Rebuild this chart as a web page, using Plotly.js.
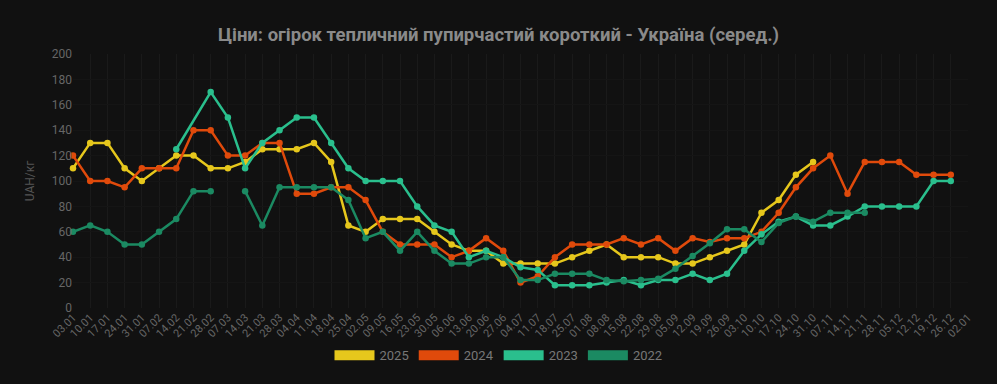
<!DOCTYPE html>
<html>
<head>
<meta charset="utf-8">
<script src="https://cdn.plot.ly/plotly-3.0.1.min.js"></script>
<style>
html,body{margin:0;padding:0;background:#111111;}
#chart{width:997px;height:384px;}
</style>
</head>
<body>
<div id="chart"></div>
<script>
const categories = ["03.01","10.01","17.01","24.01","31.01","07.02","14.02","21.02","28.02","07.03","14.03","21.03","28.03","04.04","11.04","18.04","25.04","02.05","09.05","16.05","23.05","30.05","06.06","13.06","20.06","27.06","04.07","11.07","18.07","25.07","01.08","08.08","15.08","22.08","29.08","05.09","12.09","19.09","26.09","03.10","10.10","17.10","24.10","31.10","07.11","14.11","21.11","28.11","05.12","12.12","19.12","26.12","02.01"];

const y2025 = [110,130,130,110,100,110,120,120,110,110,115,125,125,125,130,115,65,60,70,70,70,60,50,45,45,35,35,35,35,40,45,50,40,40,40,35,35,40,45,50,75,85,105,115];
const y2024 = [120,100,100,95,110,110,110,140,140,120,120,130,130,90,90,95,95,85,60,50,50,50,40,45,55,45,20,25,40,50,50,50,55,50,55,45,55,52,55,55,60,75,95,110,120,90,115,115,115,105,105,105];
const y2023 = [null,null,null,null,null,null,125,null,170,150,110,130,140,150,150,130,110,100,100,100,80,65,60,40,45,40,32,30,18,18,18,20,22,18,22,22,27,22,27,45,58,68,72,65,65,72,80,80,80,80,100,100];
const y2022 = [60,65,60,50,50,60,70,92,92,null,92,65,95,95,95,95,85,55,60,45,60,45,35,35,40,40,22,22,27,27,27,22,21,22,23,31,41,51,62,62,52,67,72,68,75,75,75];

const seriesNames = ["2025","2024","2023","2022"];
const seriesData = [y2025, y2024, y2023, y2022];
const colors = ["#e6c71c","#e04a0b","#2abf8d","#1b8a62"];
const gaps = [false, false, true, false];

const traces = [];
seriesData.forEach((ys, k) => {
  traces.push({
    type: "scatter",
    mode: "lines+markers",
    name: seriesNames[k],
    legendgroup: seriesNames[k],
    showlegend: false,
    x: categories.slice(0, ys.length),
    y: ys,
    connectgaps: gaps[k],
    line: {color: colors[k], width: 2.5},
    marker: {color: colors[k], size: 6.5},
    cliponaxis: false,
    hoverinfo: "x+y+name"
  });
});
seriesData.forEach((ys, k) => {
  traces.push({
    type: "scatter",
    mode: "lines",
    name: seriesNames[k],
    legendgroup: seriesNames[k],
    showlegend: true,
    x: [null],
    y: [null],
    line: {color: colors[k], width: 13}
  });
});

const layout = {
  width: 997,
  height: 384,
  paper_bgcolor: "#111111",
  plot_bgcolor: "#111111",
  margin: {l: 73, r: 29, t: 54, b: 76, autoexpand: false},
  font: {family: "Roboto, 'Noto Sans', sans-serif", color: "#777777"},
  title: {
    text: "<b>Ціни: огірок тепличний пупирчастий короткий - Україна (серед.)</b>",
    font: {size: 18.5, color: "#8a8a8a", family: "Roboto, 'Noto Sans', sans-serif"},
    x: 0.5, xanchor: "center", xref: "container",
    y: 0.91, yanchor: "middle", yref: "container"
  },
  xaxis: {
    type: "category",
    categoryorder: "array",
    categoryarray: categories,
    range: [0, categories.length - 1],
    tickangle: -45,
    tickfont: {size: 11, color: "#666666"},
    showgrid: true,
    gridcolor: "#1a1a1a",
    gridwidth: 1,
    zeroline: false,
    showline: false,
    ticks: "",
    automargin: false,
    fixedrange: true
  },
  yaxis: {
    range: [0, 200],
    dtick: 20,
    tick0: 0,
    tickfont: {size: 12, color: "#666666"},
    showgrid: true,
    gridcolor: "#151515",
    zeroline: false,
    showline: false,
    ticks: "",
    automargin: false,
    title: {text: "UAH/кг", font: {size: 12, color: "#555555"}, standoff: 14},
    fixedrange: true
  },
  legend: {
    orientation: "h",
    x: 0.5, xanchor: "center", xref: "container",
    y: 0.075, yanchor: "middle", yref: "container",
    font: {size: 13, color: "#777777"},
    bgcolor: "rgba(0,0,0,0)",
    itemwidth: 40,
    tracegroupgap: 0
  },
  showlegend: true
};

Plotly.newPlot("chart", traces, layout, {displayModeBar: false, staticPlot: true});
</script>
</body>
</html>
